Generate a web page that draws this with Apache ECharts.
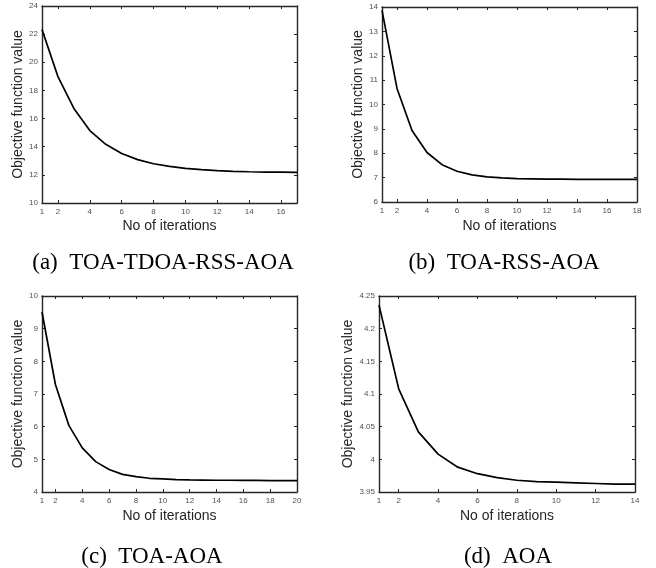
<!DOCTYPE html>
<html>
<head>
<meta charset="utf-8">
<script src="https://cdn.jsdelivr.net/npm/echarts@6/dist/echarts.min.js"></script>
<style>
  html, body { margin: 0; padding: 0; background: #fff; }
  #chart { width: 656px; height: 568px; }
</style>
</head>
<body>
<div id="chart"></div>
<script>
// Objective function value per iteration for each measurement combination
const valuesTdoaRssAoa = [22.33, 18.98, 16.72, 15.15, 14.17, 13.52, 13.08, 12.79, 12.60, 12.46, 12.37, 12.30, 12.25, 12.22, 12.20, 12.19, 12.18];
const valuesRssAoa = [13.86, 10.66, 8.93, 8.03, 7.53, 7.26, 7.11, 7.03, 6.99, 6.96, 6.95, 6.94, 6.935, 6.93, 6.93, 6.93, 6.925, 6.925];
const valuesToaAoa = [9.51, 7.29, 6.04, 5.35, 4.93, 4.69, 4.54, 4.47, 4.42, 4.40, 4.38, 4.37, 4.365, 4.36, 4.36, 4.355, 4.355, 4.35, 4.35, 4.35];
const valuesAoa = [4.236, 4.108, 4.042, 4.008, 3.988, 3.978, 3.972, 3.968, 3.966, 3.965, 3.964, 3.963, 3.962, 3.962];

// x tick labels
const xTicksA = [1, 2, 4, 6, 8, 10, 12, 14, 16];
const xTicksB = [1, 2, 4, 6, 8, 10, 12, 14, 16, 18];
const xTicksC = [1, 2, 4, 6, 8, 10, 12, 14, 16, 18, 20];
const xTicksD = [1, 2, 4, 6, 8, 10, 12, 14];

// y axis ranges: [min, max, step]
const yRangeA = [10, 24, 2];
const yRangeB = [6, 14, 1];
const yRangeC = [4, 10, 1];
const yRangeD = [3.95, 4.25, 0.05];

const captions = ['(a)  TOA-TDOA-RSS-AOA', '(b)  TOA-RSS-AOA', '(c)  TOA-AOA', '(d)  AOA'];
const xTitle = 'No of iterations';
const yTitle = 'Objective function value';

const panels = [
  { vals: valuesTdoaRssAoa, xt: xTicksA, yr: yRangeA, grid: { left: 42, top: 6, width: 255, height: 197 }, yGap: 15, xGap: 16, cap: [163, 263] },
  { vals: valuesRssAoa, xt: xTicksB, yr: yRangeB, grid: { left: 382, top: 7, width: 255, height: 195 }, yGap: 16, xGap: 17, cap: [504, 263] },
  { vals: valuesToaAoa, xt: xTicksC, yr: yRangeC, grid: { left: 42, top: 296, width: 255, height: 196 }, yGap: 15, xGap: 17, cap: [152, 557] },
  { vals: valuesAoa, xt: xTicksD, yr: yRangeD, grid: { left: 379, top: 296, width: 256, height: 196 }, yGap: 23, xGap: 17, cap: [508, 557] }
];

const axisColor = '#262626';
const tickFont = { color: '#505050', fontSize: 8, fontFamily: 'Liberation Sans, Arial, sans-serif' };
const titleFont = { color: '#262626', fontSize: 14, fontFamily: 'Liberation Sans, Arial, sans-serif' };

const grids = [], xAxes = [], yAxes = [], series = [], graphics = [];

panels.forEach((p, i) => {
  grids.push(Object.assign({ containLabel: false }, p.grid));
  const xMax = p.vals.length;
  const [yMin, yMax, yStep] = p.yr;
  const lineCommon = { show: true, onZero: false, lineStyle: { color: axisColor, width: 1.4 } };
  const tickCommon = { show: true, inside: true, length: 3, lineStyle: { color: axisColor, width: 1 } };

  // bottom x axis with labels
  xAxes.push({
    type: 'value', gridIndex: i, position: 'bottom', min: 1, max: xMax,
    axisLine: lineCommon,
    axisTick: Object.assign({ customValues: p.xt }, tickCommon),
    axisLabel: Object.assign({ customValues: p.xt, margin: 5 }, tickFont),
    splitLine: { show: false },
    name: xTitle, nameLocation: 'middle', nameGap: p.xGap, nameTextStyle: titleFont
  });
  // top x axis, ticks only
  xAxes.push({
    type: 'value', gridIndex: i, position: 'top', min: 1, max: xMax,
    axisLine: lineCommon,
    axisTick: Object.assign({ customValues: p.xt }, tickCommon),
    axisLabel: { show: false },
    splitLine: { show: false }
  });
  // left y axis with labels
  yAxes.push({
    type: 'value', gridIndex: i, position: 'left', min: yMin, max: yMax, interval: yStep,
    axisLine: lineCommon,
    axisTick: tickCommon,
    axisLabel: Object.assign({ margin: 4, formatter: v => String(parseFloat(v.toFixed(2))) }, tickFont),
    splitLine: { show: false },
    name: yTitle, nameLocation: 'middle', nameGap: p.yGap, nameTextStyle: titleFont
  });
  // right y axis, ticks only
  yAxes.push({
    type: 'value', gridIndex: i, position: 'right', min: yMin, max: yMax, interval: yStep,
    axisLine: lineCommon,
    axisTick: tickCommon,
    axisLabel: { show: false },
    splitLine: { show: false }
  });

  series.push({
    type: 'line', xAxisIndex: i * 2, yAxisIndex: i * 2,
    data: p.vals.map((v, k) => [k + 1, v]),
    symbol: 'none', smooth: false, silent: true, animation: false,
    lineStyle: { color: '#000', width: 1.7 }
  });

  graphics.push({
    type: 'text', x: p.cap[0], y: p.cap[1],
    style: {
      text: captions[i], fill: '#000',
      font: '23px "Liberation Serif", "Times New Roman", serif',
      align: 'center', verticalAlign: 'middle',
      textAlign: 'center', textVerticalAlign: 'middle'
    }
  });
});

const chart = echarts.init(document.getElementById('chart'), null, { renderer: 'canvas' });
chart.setOption({
  backgroundColor: '#fff',
  animation: false,
  grid: grids,
  xAxis: xAxes,
  yAxis: yAxes,
  series: series,
  graphic: graphics
});
</script>
</body>
</html>
